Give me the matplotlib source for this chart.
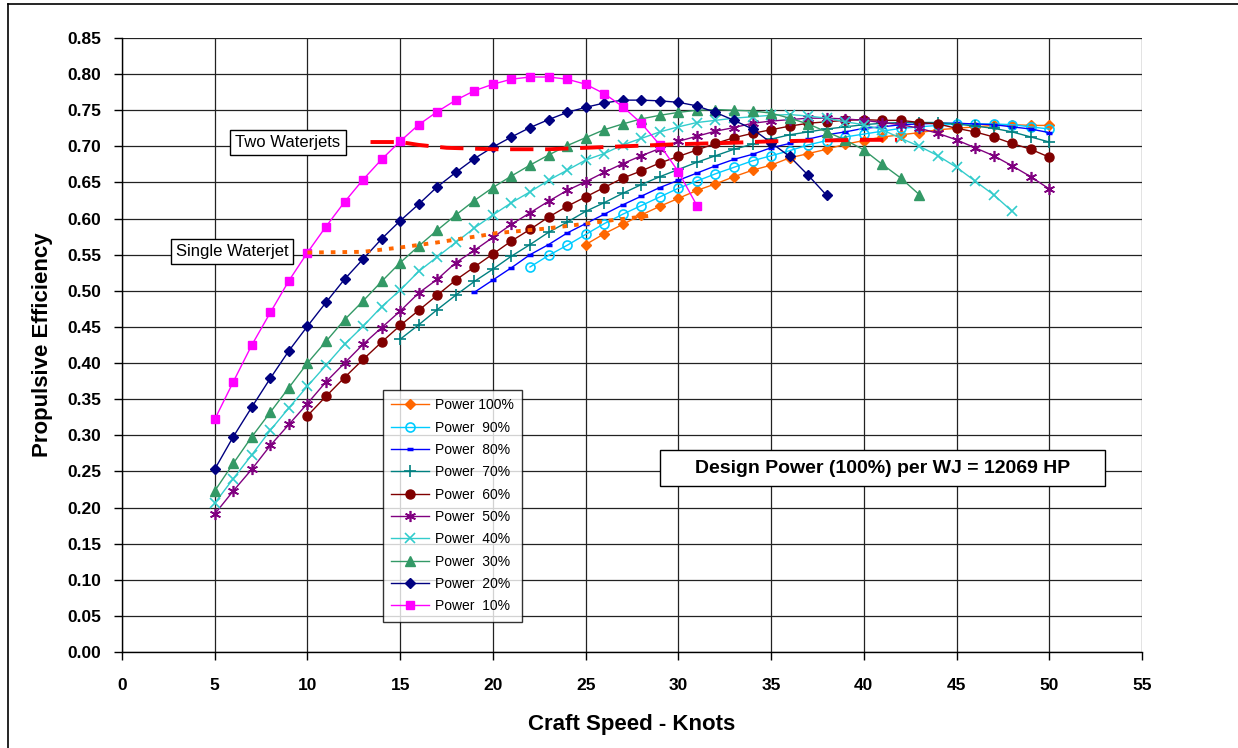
import numpy as np
import matplotlib
matplotlib.use("Agg")
import matplotlib.pyplot as plt
from matplotlib.lines import Line2D
from matplotlib.patches import Rectangle

plt.rcParams['font.family'] = ['Liberation Sans', 'DejaVu Sans']

# craft speed (knots) for each power setting
speed_100 = list(range(25, 51))
speed_90 = list(range(22, 51))
speed_80 = list(range(19, 51))
speed_70 = list(range(15, 51))
speed_60 = list(range(10, 51))
speed_50 = list(range(5, 51))
speed_40 = list(range(5, 49))
speed_30 = list(range(5, 44))
speed_20 = list(range(5, 39))
speed_10 = list(range(5, 32))

# propulsive efficiency
eff_100 = [0.564, 0.579, 0.592, 0.605, 0.617, 0.628, 0.639, 0.648, 0.658, 0.667,
           0.674, 0.684, 0.690, 0.696, 0.703, 0.708, 0.713, 0.716, 0.719, 0.723,
           0.725, 0.727, 0.729, 0.730, 0.729, 0.729]
eff_90 = [0.533, 0.549, 0.563, 0.578, 0.593, 0.606, 0.618, 0.630, 0.642, 0.652,
          0.662, 0.671, 0.680, 0.687, 0.694, 0.702, 0.708, 0.713, 0.717, 0.721,
          0.725, 0.727, 0.729, 0.731, 0.731, 0.731, 0.730, 0.727, 0.724]
eff_80 = [0.498, 0.515, 0.532, 0.550, 0.564, 0.580, 0.593, 0.606, 0.619, 0.631,
          0.643, 0.653, 0.663, 0.673, 0.682, 0.689, 0.698, 0.704, 0.710, 0.716,
          0.720, 0.725, 0.727, 0.730, 0.731, 0.732, 0.732, 0.731, 0.730, 0.727,
          0.724, 0.719]
eff_70 = [0.433, 0.453, 0.474, 0.494, 0.513, 0.530, 0.548, 0.564, 0.581, 0.595,
          0.610, 0.622, 0.635, 0.647, 0.658, 0.668, 0.678, 0.687, 0.696, 0.703,
          0.710, 0.716, 0.720, 0.724, 0.727, 0.730, 0.732, 0.733, 0.733, 0.733,
          0.731, 0.728, 0.725, 0.720, 0.713, 0.706]
eff_60 = [0.327, 0.354, 0.380, 0.405, 0.429, 0.452, 0.473, 0.494, 0.515, 0.533,
          0.551, 0.569, 0.585, 0.602, 0.617, 0.630, 0.643, 0.656, 0.666, 0.677,
          0.686, 0.695, 0.704, 0.712, 0.718, 0.723, 0.728, 0.732, 0.734, 0.736,
          0.737, 0.736, 0.736, 0.733, 0.731, 0.725, 0.720, 0.713, 0.704, 0.696,
          0.685]
eff_50 = [0.191, 0.223, 0.253, 0.286, 0.315, 0.344, 0.374, 0.400, 0.426, 0.449,
          0.472, 0.497, 0.516, 0.539, 0.556, 0.574, 0.592, 0.608, 0.624, 0.639,
          0.651, 0.664, 0.676, 0.687, 0.697, 0.707, 0.714, 0.721, 0.726, 0.732,
          0.735, 0.737, 0.739, 0.739, 0.738, 0.736, 0.733, 0.730, 0.725, 0.718,
          0.709, 0.698, 0.687, 0.673, 0.658, 0.641]
eff_40 = [0.206, 0.240, 0.273, 0.307, 0.338, 0.368, 0.397, 0.426, 0.451, 0.478,
          0.501, 0.527, 0.547, 0.567, 0.587, 0.605, 0.622, 0.637, 0.653, 0.667,
          0.681, 0.690, 0.702, 0.711, 0.720, 0.727, 0.733, 0.736, 0.739, 0.741,
          0.743, 0.744, 0.742, 0.739, 0.734, 0.730, 0.723, 0.711, 0.700, 0.687,
          0.671, 0.652, 0.633, 0.610]
eff_30 = [0.223, 0.261, 0.298, 0.332, 0.366, 0.400, 0.430, 0.460, 0.486, 0.513,
          0.539, 0.562, 0.584, 0.605, 0.625, 0.643, 0.659, 0.674, 0.688, 0.701,
          0.712, 0.723, 0.731, 0.738, 0.743, 0.747, 0.750, 0.751, 0.750, 0.749,
          0.746, 0.739, 0.731, 0.720, 0.709, 0.695, 0.675, 0.656, 0.633]
eff_20 = [0.253, 0.298, 0.339, 0.379, 0.417, 0.451, 0.484, 0.516, 0.544, 0.572,
          0.597, 0.620, 0.644, 0.664, 0.683, 0.699, 0.713, 0.726, 0.737, 0.747,
          0.754, 0.760, 0.764, 0.764, 0.763, 0.761, 0.756, 0.747, 0.736, 0.724,
          0.705, 0.686, 0.660, 0.632]
eff_10 = [0.322, 0.374, 0.425, 0.470, 0.514, 0.553, 0.589, 0.623, 0.654, 0.682,
          0.707, 0.730, 0.748, 0.764, 0.777, 0.786, 0.793, 0.796, 0.796, 0.793,
          0.786, 0.773, 0.755, 0.732, 0.702, 0.665, 0.618]

# envelope lines
two_wj_speed = [13.4, 15, 16, 17.5, 20, 23, 26, 30, 33, 35, 40, 41.8]
two_wj_eff = [0.706, 0.706, 0.702, 0.698, 0.696, 0.696, 0.699, 0.703, 0.705, 0.707, 0.709, 0.709]
one_wj_speed = [10, 13, 15, 17, 18.5, 19.3, 20.2, 21.1, 22.8, 24.4, 26.5, 28.5]
one_wj_eff = [0.553, 0.554, 0.560, 0.567, 0.573, 0.576, 0.580, 0.582, 0.586, 0.591, 0.598, 0.604]

labels = ['Power 100%', 'Power  90%', 'Power  80%', 'Power  70%', 'Power  60%',
          'Power  50%', 'Power  40%', 'Power  30%', 'Power  20%', 'Power  10%']
speeds = [speed_100, speed_90, speed_80, speed_70, speed_60,
          speed_50, speed_40, speed_30, speed_20, speed_10]
effs = [eff_100, eff_90, eff_80, eff_70, eff_60, eff_50, eff_40, eff_30, eff_20, eff_10]

styles = [
    dict(color='#FF6600', marker='D', ms=5.5),
    dict(color='#00CCFF', marker='o', ms=6.5, mfc='none', mew=1.2),
    dict(color='#0000FF', marker='_', ms=5, mew=2.5),
    dict(color='#008080', marker='+', ms=8, mew=1.2),
    dict(color='#800000', marker='o', ms=6.5),
    dict(color='#800080', marker=(6, 2, 0), ms=8, mew=1.2),
    dict(color='#33CCCC', marker='x', ms=7, mew=1.2),
    dict(color='#339966', marker='^', ms=7.5),
    dict(color='#000080', marker='D', ms=5.5),
    dict(color='#FF00FF', marker='s', ms=6),
]

fig = plt.figure(figsize=(12.38, 7.48), dpi=100)
ax = fig.add_axes([122 / 1238, 96 / 748, 1020 / 1238, 614 / 748])

for sp, ef, lab, st in zip(speeds, effs, labels, styles):
    ax.plot(sp, ef, lw=1.0, label=lab, **st)

ax.plot(two_wj_speed, two_wj_eff, color='#FF0000', lw=2.8, dashes=(6, 3), zorder=5)
ax.plot(one_wj_speed, one_wj_eff, color='#FF6600', lw=2.8, dashes=(1.2, 1.8), zorder=5)

ax.set_xlim(0, 55)
ax.set_ylim(0, 0.85)
ax.set_xticks(np.arange(0, 56, 5))
ax.set_yticks(np.arange(0, 0.851, 0.05))
ax.set_yticklabels(['%.2f' % v for v in np.arange(0, 0.851, 0.05)])
ax.grid(True, color='#222222', lw=0.9)
ax.set_axisbelow(True)
for s in ['top', 'right']:
    ax.spines[s].set_visible(False)
for s in ['left', 'bottom']:
    ax.spines[s].set_linewidth(1.0)
ax.tick_params(direction='out', length=6, width=1.0, labelsize=12.5)
ax.tick_params(axis='x', pad=13)
ax.tick_params(axis='y', pad=9)
for lab in ax.get_xticklabels() + ax.get_yticklabels():
    lab.set_fontweight('bold')

ax.set_xlabel('Craft Speed - Knots', fontsize=16, fontweight='bold', labelpad=15)
ax.set_ylabel('Propulsive Efficiency', fontsize=16, fontweight='bold', labelpad=10)

box = dict(boxstyle='square,pad=0.3', fc='white', ec='black', lw=1.0)
ax.text(8.95, 0.706, 'Two Waterjets', fontsize=12, ha='center', va='center', bbox=box, zorder=6)
ax.text(5.93, 0.554, 'Single Waterjet', fontsize=12, ha='center', va='center', bbox=box, zorder=6)

# design power note in its own frame
ax.add_patch(Rectangle((29.0, 0.2298), 24.0, 0.0498, fc='white', ec='black', lw=1.0, zorder=6))
ax.text(41.0, 0.2547, 'Design Power (100%) per WJ = 12069 HP', fontsize=14, fontweight='bold',
        ha='center', va='center', zorder=7)

leg = ax.legend(loc='upper left', bbox_to_anchor=(0.256, 0.4267), borderaxespad=0,
                fontsize=10, frameon=True, fancybox=False, handlelength=2.7,
                labelspacing=0.6, borderpad=0.6, handletextpad=0.4)
leg.get_frame().set_edgecolor('black')
leg.get_frame().set_linewidth(1.0)
leg.set_zorder(7)

# outer chart frame (left and top edges visible)
fig.add_artist(Line2D([8 / 1238, 8 / 1238], [0, 1 - 4 / 748], color='black', lw=1.2))
fig.add_artist(Line2D([8 / 1238, 1], [1 - 4 / 748, 1 - 4 / 748], color='black', lw=1.2))

fig.savefig('out.png', dpi=100)
